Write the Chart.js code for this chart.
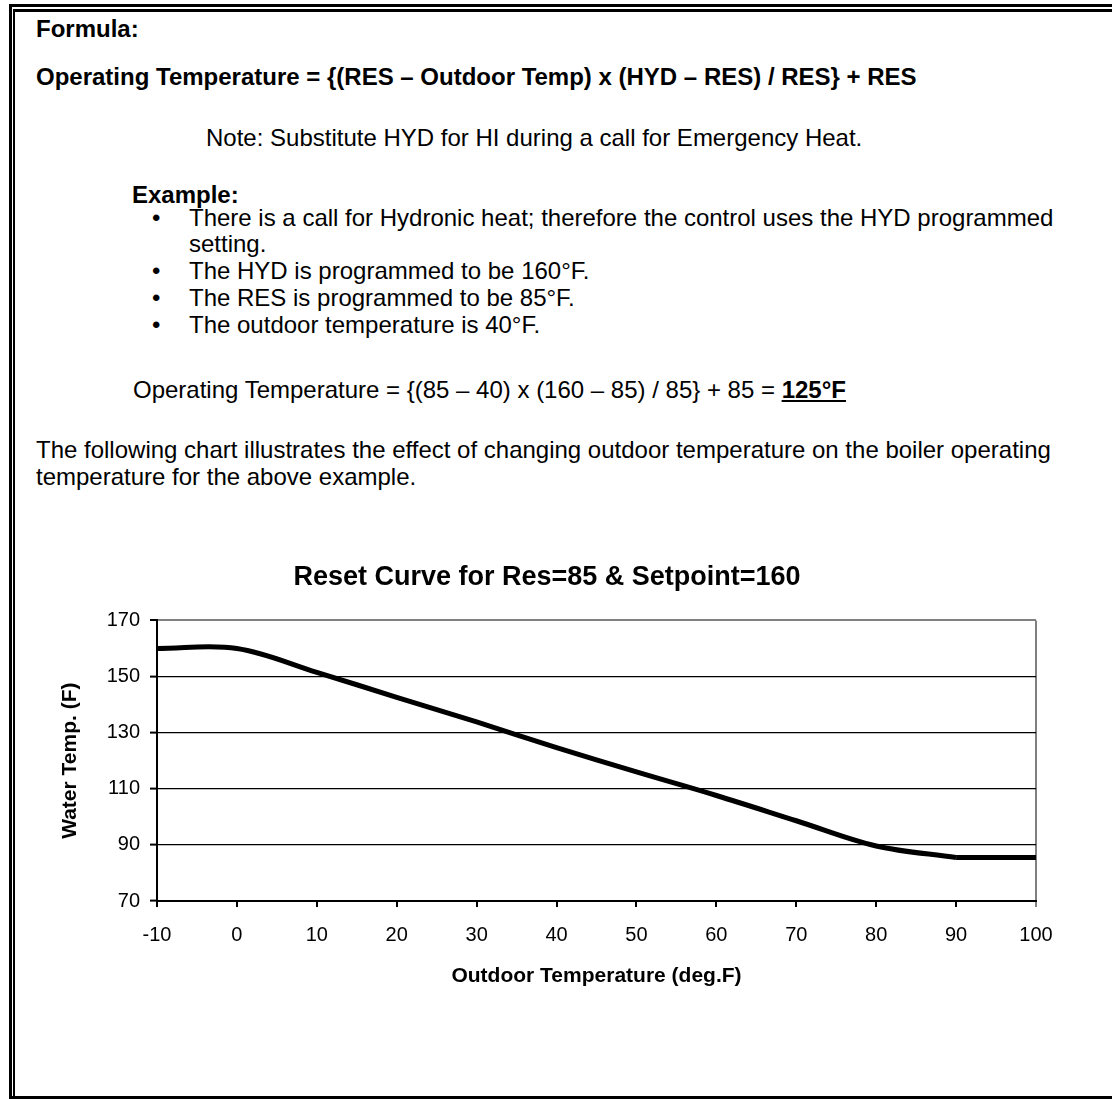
<!DOCTYPE html>
<html>
<head>
<meta charset="utf-8">
<script src="https://cdn.jsdelivr.net/npm/chart.js@4"></script>
<style>
  html, body { margin: 0; padding: 0; background: #fff; }
  body { width: 1112px; height: 1099px; position: relative; overflow: hidden;
         font-family: "Liberation Sans", Arial, sans-serif; font-size: 24px; color: #000; }
  .ln { position: absolute; white-space: nowrap; line-height: 28px; }
  .b { font-weight: bold; }
  .frame { position: absolute; background: #000; }
  #wrap { position: absolute; left: 0; top: 480px; width: 1112px; height: 560px; }
</style>
</head>
<body>
<!-- page border: double rule on left/top, single at the bottom -->
<div class="frame" style="left:9px; top:4px; width:3px; height:1095px;"></div>
<div class="frame" style="left:9px; top:4px; width:1103px; height:3px;"></div>
<div class="frame" style="left:13px; top:9px; width:2px; height:1090px;"></div>
<div class="frame" style="left:13px; top:9px; width:1099px; height:3px;"></div>
<div class="frame" style="left:9px; top:1096px; width:1103px; height:3px;"></div>

<div class="ln b" style="left:36px; top:15px;">Formula:</div>
<div class="ln b" style="left:36px; top:63px;">Operating Temperature = {(RES – Outdoor Temp) x (HYD – RES) / RES} + RES</div>
<div class="ln" style="left:206px; top:124px;">Note: Substitute HYD for HI during a call for Emergency Heat.</div>
<div class="ln b" style="left:132px; top:181px;">Example:</div>
<div class="ln" style="left:152px; top:204px;">•</div>
<div class="ln" style="left:189px; top:204px;">There is a call for Hydronic heat; therefore the control uses the HYD programmed</div>
<div class="ln" style="left:189px; top:230px;">setting.</div>
<div class="ln" style="left:152px; top:257px;">•</div>
<div class="ln" style="left:189px; top:257px;">The HYD is programmed to be 160°F.</div>
<div class="ln" style="left:152px; top:284px;">•</div>
<div class="ln" style="left:189px; top:284px;">The RES is programmed to be 85°F.</div>
<div class="ln" style="left:152px; top:311px;">•</div>
<div class="ln" style="left:189px; top:311px;">The outdoor temperature is 40°F.</div>
<div class="ln" style="left:133px; top:376px;">Operating Temperature = {(85 – 40) x (160 – 85) / 85} + 85 = <b><u>125°F</u></b></div>
<div class="ln" style="left:36px; top:436px;">The following chart illustrates the effect of changing outdoor temperature on the boiler operating</div>
<div class="ln" style="left:36px; top:463px;">temperature for the above example.</div>

<div id="wrap"><canvas id="resetChart"></canvas></div>

<script>
// outdoor temperature (deg F) and resulting water temperature (F)
const outdoorTemps = [-10, 0, 10, 20, 30, 40, 50, 60, 70, 80, 90, 100];
const waterTemps = [160, 160, 151.5, 142.6, 133.8, 124.7, 116, 107.6, 98.6, 89.6, 85.5, 85.5];

const xTicks = [-10, 0, 10, 20, 30, 40, 50, 60, 70, 80, 90, 100];
const yTicks = [70, 90, 110, 130, 150, 170];

const chartTitle = 'Reset Curve for Res=85 & Setpoint=160';
const xTitle = 'Outdoor Temperature (deg.F)';
const yTitle = 'Water Temp. (F)';

const FONT = '"Liberation Sans", Arial, sans-serif';

const points = outdoorTemps.map((t, i) => ({ x: t, y: waterTemps[i] }));
// the curve is smoothed down to the minimum, then runs flat at the minimum
const flatFrom = outdoorTemps.indexOf(90);

const lineStyle = { borderColor: '#000', borderWidth: 5, pointRadius: 0, fill: false };

const ctx = document.getElementById('resetChart');

const resetChart = new Chart(ctx, {
  type: 'line',
  data: {
    datasets: [
      Object.assign({ data: points.slice(0, flatFrom + 1), tension: 0.35 }, lineStyle),
      Object.assign({ data: points.slice(flatFrom), tension: 0 }, lineStyle)
    ]
  },
  options: {
    responsive: true,
    maintainAspectRatio: false,
    animation: false,
    layout: { padding: { left: 58, right: 76, top: 0, bottom: 51 } },
    plugins: {
      legend: { display: false },
      tooltip: { enabled: false },
      title: {
        display: true,
        text: chartTitle,
        color: '#000',
        font: { family: FONT, size: 27, weight: 'bold', lineHeight: 1.2 },
        padding: { top: 81, bottom: 27 }
      }
    },
    scales: {
      x: {
        type: 'linear',
        min: -10,
        max: 100,
        afterBuildTicks: axis => { axis.ticks = xTicks.map(v => ({ value: v })); },
        afterFit: axis => { axis.height = 88; },
        ticks: {
          color: '#000',
          font: { family: FONT, size: 20 },
          padding: 16,
          maxRotation: 0
        },
        grid: {
          color: c => (c.tick && c.tick.value === 100 ? '#808080' : 'rgba(0,0,0,0)'),
          lineWidth: 2,
          tickColor: c => (c.tick && c.tick.value === 100 ? '#808080' : '#000'),
          tickLength: 6,
          tickWidth: 2
        },
        border: { color: '#000', width: 2 },
        title: {
          display: true,
          text: xTitle,
          color: '#000',
          font: { family: FONT, size: 21, weight: 'bold', lineHeight: 1.2 },
          padding: { top: 4, bottom: 0 }
        }
      },
      y: {
        min: 70,
        max: 170,
        afterBuildTicks: axis => { axis.ticks = yTicks.map(v => ({ value: v })); },
        afterFit: axis => { axis.width = 99; },
        ticks: {
          color: '#000',
          font: { family: FONT, size: 20 },
          padding: 10
        },
        grid: {
          color: c => (c.tick && c.tick.value === 170 ? '#808080' : '#000'),
          lineWidth: c => (c.tick && c.tick.value === 170 ? 2 : 1.2),
          tickColor: '#000',
          tickLength: 7,
          tickWidth: 2
        },
        border: { color: '#000', width: 2 },
        title: {
          display: true,
          text: yTitle,
          color: '#000',
          font: { family: FONT, size: 21, weight: 'bold', lineHeight: 1.2 },
          padding: { top: 0, bottom: 0 }
        }
      }
    }
  }
});
</script>
</body>
</html>
